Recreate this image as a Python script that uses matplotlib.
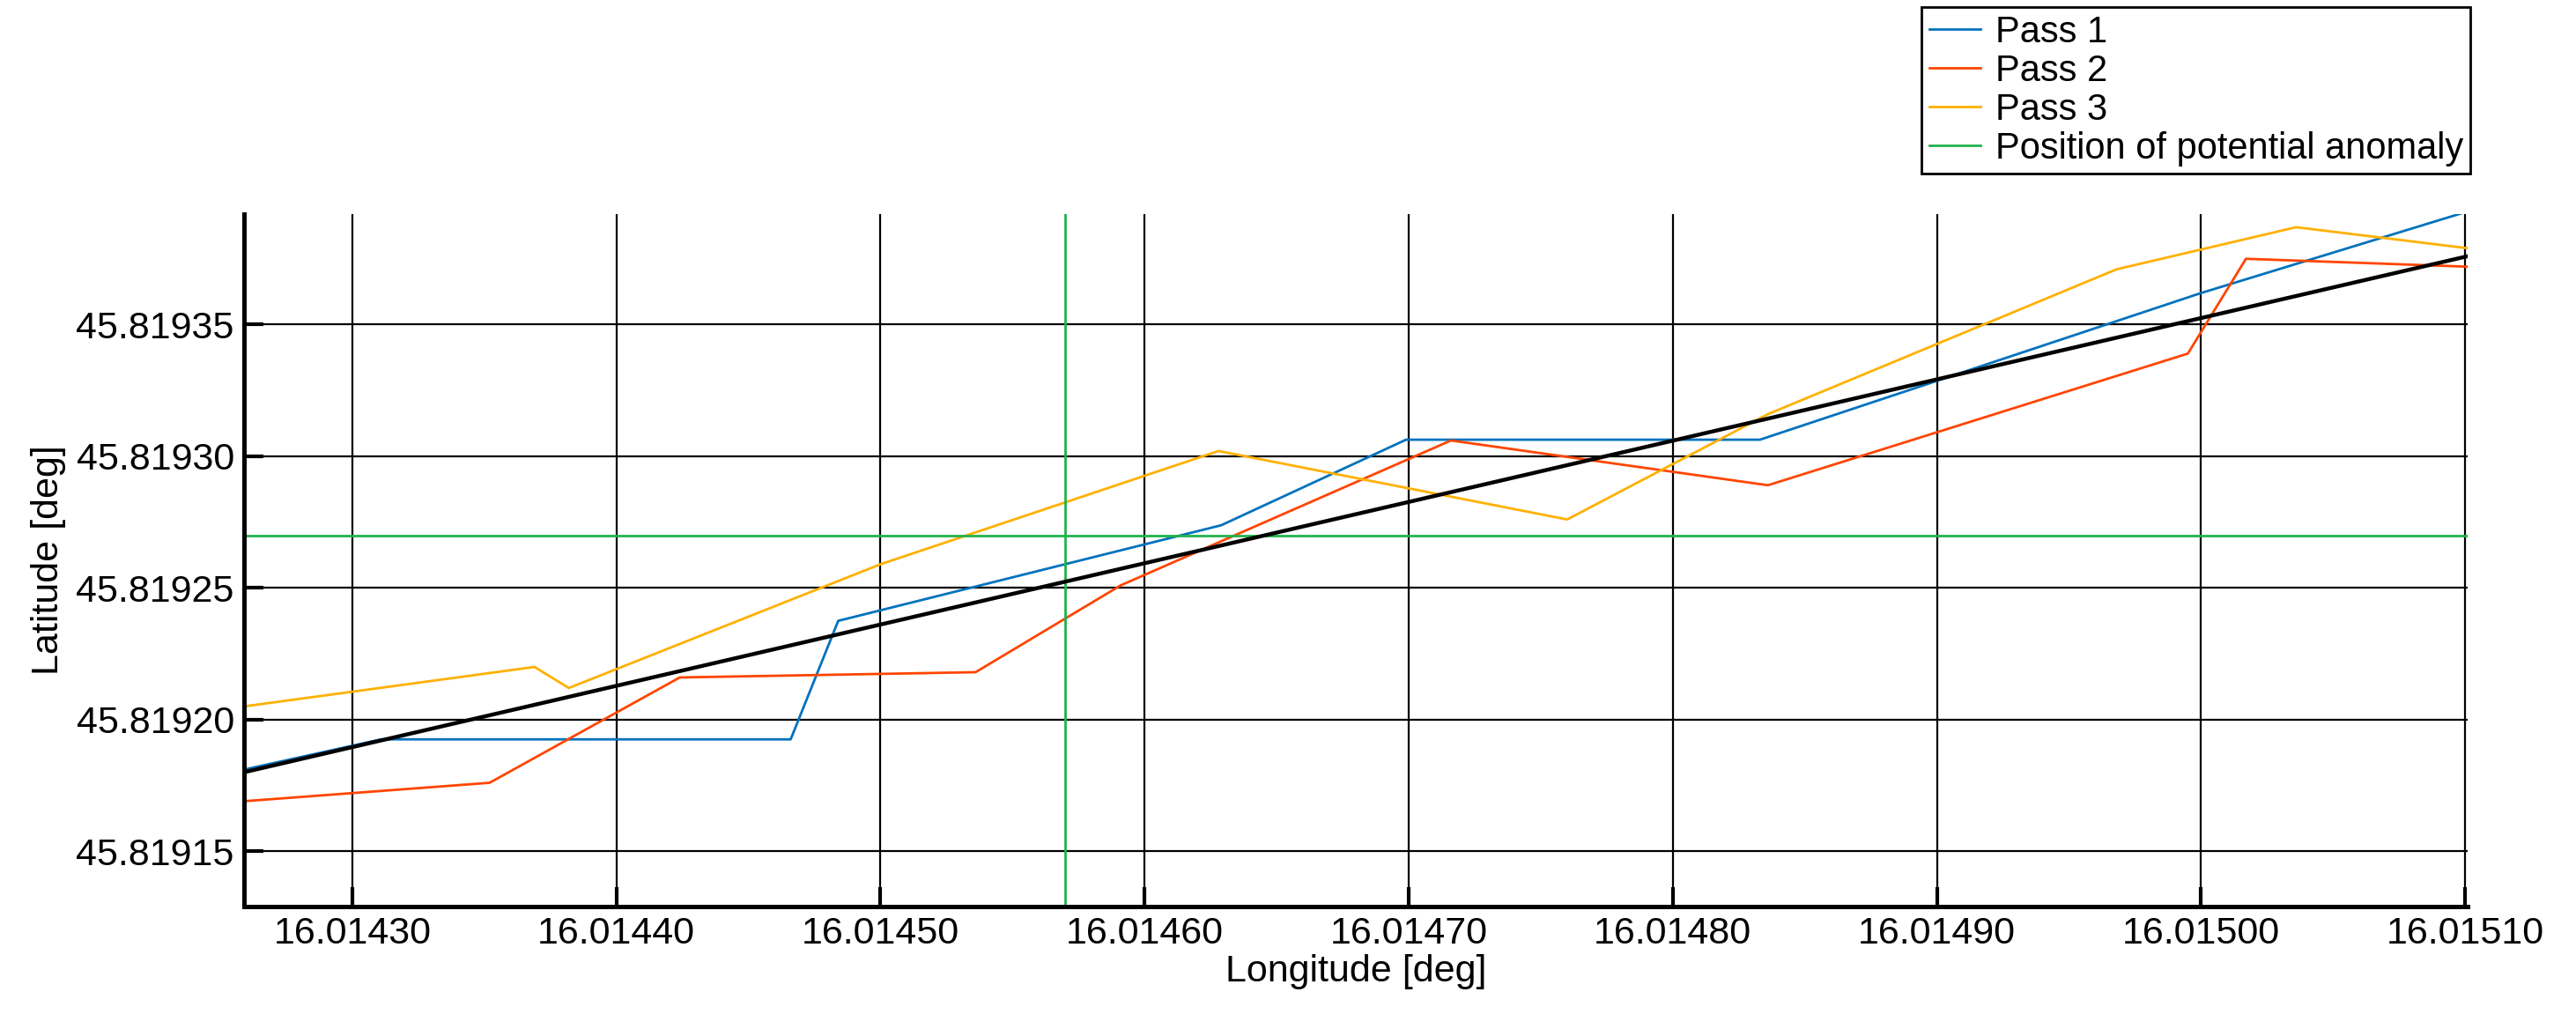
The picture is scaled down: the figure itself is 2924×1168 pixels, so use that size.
import matplotlib
matplotlib.use("Agg")
import matplotlib.pyplot as plt
import numpy as np

plt.rcParams['font.family'] = ['Liberation Sans', 'DejaVu Sans']

p1_x = [16.014259, 16.014311, 16.014466, 16.014484, 16.014629, 16.014699, 16.014833, 16.015000, 16.015101]
p1_y = [45.819181, 45.8191925, 45.8191925, 45.8192375, 45.8192738, 45.8193063, 45.8193063, 45.819362, 45.819393]
p2_x = [16.014259, 16.014352, 16.014424, 16.014536, 16.014591, 16.014716, 16.014836, 16.014995, 16.015017, 16.015101]
p2_y = [45.819169, 45.819176, 45.819216, 45.819218, 45.819251, 45.819306, 45.819289, 45.819339, 45.819375, 45.819372]
p3_x = [16.014259, 16.014369, 16.014382, 16.014500, 16.014628, 16.014760, 16.014836, 16.014968, 16.015036, 16.015101]
p3_y = [45.819205, 45.819220, 45.819212, 45.819259, 45.819302, 45.819276, 45.819316, 45.819371, 45.819387, 45.819379]
fit_x = [16.014259, 16.015101]
fit_y = [45.819180, 45.819376]
anomaly_x = 16.01457
anomaly_y = 45.81927
xticks = [16.0143, 16.0144, 16.0145, 16.0146, 16.0147, 16.0148, 16.0149, 16.0150, 16.0151]
yticks = [45.81915, 45.8192, 45.81925, 45.8193, 45.81935]

fig = plt.figure(figsize=(14.62, 5.84), dpi=200)
ax = fig.add_axes([0.0947, 0.119, 0.8633, 0.673])
ax.plot(p1_x, p1_y, color='#0072BD', lw=1, label='Pass 1')
ax.plot(p2_x, p2_y, color='#FF4500', lw=1, label='Pass 2')
ax.plot(p3_x, p3_y, color='#FFB000', lw=1, label='Pass 3')
ax.axvline(anomaly_x, color='#22B14C', lw=1, label='Position of potential anomaly')
ax.axhline(anomaly_y, color='#22B14C', lw=1)
ax.plot(fit_x, fit_y, color='black', lw=1.6)
ax.set_xlim(16.014259, 16.015101)
ax.set_ylim(45.819129, 45.819392)
ax.set_xticks(xticks)
ax.set_xticklabels([f"{v:.5f}" for v in xticks])
ax.set_yticks(yticks)
ax.set_yticklabels([f"{v:.5f}" for v in yticks])
ax.grid(True, color='black', lw=0.8)
ax.tick_params(labelsize=15.5, direction='in', length=8, width=1.5, pad=4)
for s in ['top', 'right']:
    ax.spines[s].set_visible(False)
for s in ['left', 'bottom']:
    ax.spines[s].set_linewidth(1.8)
ax.set_xlabel('Longitude [deg]', fontsize=15.5, labelpad=1)
ax.set_ylabel('Latitude [deg]', fontsize=15.5, labelpad=4)
fig.legend(loc='upper right', bbox_to_anchor=(0.959, 0.993), fontsize=15,
           fancybox=False, edgecolor='black', framealpha=1, handlelength=1.4,
           handletextpad=0.4, borderaxespad=0, borderpad=0.2, labelspacing=0.1)
fig.savefig('out.png', dpi=200)
